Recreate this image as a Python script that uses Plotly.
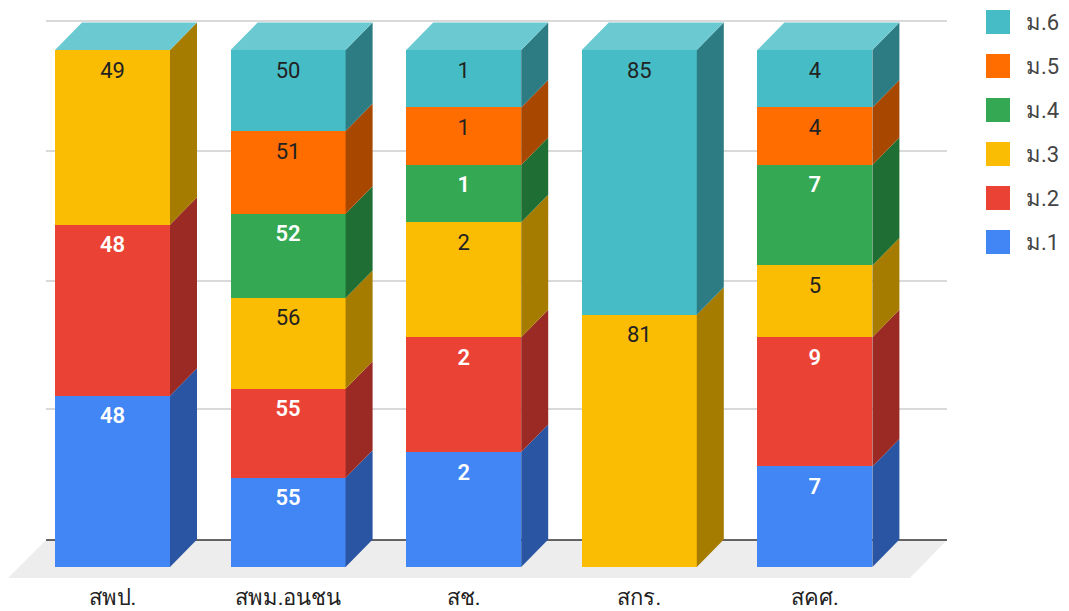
import plotly.graph_objects as go
import numpy as np

categories = ["สพป.", "สพม.อนชน", "สช.", "สกร.", "สคศ."]
series_names = ["ม.1", "ม.2", "ม.3", "ม.4", "ม.5", "ม.6"]
m1 = [48, 55, 2, 0, 7]
m2 = [48, 55, 2, 0, 9]
m3 = [49, 56, 2, 81, 5]
m4 = [0, 52, 1, 0, 7]
m5 = [0, 51, 1, 0, 4]
m6 = [0, 50, 1, 85, 4]
series_values = [m1, m2, m3, m4, m5, m6]
front_colors = ["#4285F4", "#EA4335", "#FBBC04", "#34A853", "#FF6D01", "#46BDC6"]
side_colors = ["#2A55A3", "#9A2A23", "#A67C00", "#1F6E34", "#A84800", "#2E7C83"]
label_colors = ["#FFFFFF", "#FFFFFF", "#222222", "#FFFFFF", "#222222", "#222222"]
label_weights = [600, 600, 400, 600, 400, 400]
top_color = "#6BCAD1"

W, H = 1069, 611
BOTTOM_M = 33
FONT = "Roboto, 'Noto Sans', sans-serif"

# pixel <-> data helpers (layout calibration)
X0_PX, X_STEP = 112.5, 175.6
Y0_PX, Y_UNIT = 567.0, 5.17
def xd(px): return (px - X0_PX) / X_STEP
def yd(px): return (Y0_PX - px) / Y_UNIT

BAR_W = 115 / X_STEP
DX = 27 / X_STEP
DY = 27.5 / Y_UNIT

vals = np.array(series_values, dtype=float)
pct = vals / vals.sum(axis=0) * 100
cum = np.cumsum(pct, axis=0)
xs = np.arange(len(categories))

fig = go.Figure()

# stacked front faces
for k, name in enumerate(series_names):
    fig.add_trace(go.Bar(x=xs, y=series_values[k], name=name, width=BAR_W,
                         marker=dict(color=front_colors[k], line=dict(width=0)),
                         showlegend=False))

# side faces
for k, name in enumerate(series_names):
    px_, py_ = [], []
    for i in xs:
        if vals[k, i] == 0:
            continue
        r = i + BAR_W / 2
        lo = cum[k, i] - pct[k, i]
        hi = cum[k, i]
        px_ += [r, r + DX, r + DX, r, r, None]
        py_ += [lo, lo + DY, hi + DY, hi, lo, None]
    fig.add_trace(go.Scatter(x=px_, y=py_, mode="lines", fill="toself",
                             fillcolor=side_colors[k], line=dict(width=0),
                             hoverinfo="skip", showlegend=False))

# top faces
tx, ty = [], []
for i in xs:
    l, r = i - BAR_W / 2, i + BAR_W / 2
    tx += [l, r, r + DX, l + DX, l, None]
    ty += [100, 100, 100 + DY, 100 + DY, 100, None]
fig.add_trace(go.Scatter(x=tx, y=ty, mode="lines", fill="toself", fillcolor=top_color,
                         line=dict(width=0), hoverinfo="skip", showlegend=False))

# value labels
LABEL_DROP = 22 / Y_UNIT
for k in range(len(series_names)):
    idx = [i for i in xs if vals[k, i] > 0]
    fig.add_trace(go.Scatter(x=idx, y=[cum[k, i] - LABEL_DROP for i in idx],
                             text=[str(series_values[k][i]) for i in idx],
                             mode="text", textposition="middle center",
                             textfont=dict(family=FONT, size=22, color=label_colors[k],
                                           weight=label_weights[k]),
                             hoverinfo="skip", showlegend=False))

# legend column
LEG_ROWS = [242, 198, 154, 110, 66, 22]
fig.add_trace(go.Scatter(x=[xd(998)] * 6, y=[yd(p) for p in LEG_ROWS], mode="markers",
                         marker=dict(symbol="square", size=24, color=front_colors, line=dict(width=0)),
                         hoverinfo="skip", showlegend=False))
fig.add_trace(go.Scatter(x=[xd(1026)] * 6, y=[yd(p + 2) for p in LEG_ROWS], mode="text",
                         text=series_names, textposition="middle right",
                         textfont=dict(family=FONT, size=22, color="#444444"),
                         hoverinfo="skip", showlegend=False))

# floor and back-wall lines, behind the marks
shapes = [dict(type="path", layer="below", line=dict(width=0), fillcolor="#EDEDED",
               path=f"M {xd(46)} {yd(540)} L {xd(947)} {yd(540)} L {xd(910)} {yd(578)} L {xd(8)} {yd(578)} Z")]
for p, c in [(409, "#CCCCCC"), (281, "#CCCCCC"), (151, "#CCCCCC"), (21, "#CCCCCC"), (540, "#333333")]:
    shapes.append(dict(type="line", layer="below", x0=xd(46), x1=xd(947), y0=yd(p), y1=yd(p),
                       line=dict(color=c, width=1.5)))

fig.update_layout(
    width=W, height=H, barmode="stack", barnorm="percent",
    paper_bgcolor="white", plot_bgcolor="white",
    margin=dict(l=0, r=0, t=0, b=BOTTOM_M),
    shapes=shapes, showlegend=False,
    font=dict(family=FONT, size=20, color="#222222"),
    xaxis=dict(range=[xd(0), xd(W)], tickmode="array", tickvals=list(xs), ticktext=categories,
               showgrid=False, zeroline=False, showline=False, ticks="outside", ticklen=0,
               tickcolor="rgba(0,0,0,0)",
               tickfont=dict(family=FONT, size=22, color="#222222"),
               fixedrange=True, automargin=False),
    yaxis=dict(range=[yd(H - BOTTOM_M), yd(0)], showgrid=False, zeroline=False,
               showline=False, showticklabels=False, ticks="", fixedrange=True, automargin=False),
)
fig.write_html("out.html", config=dict(displayModeBar=False),
               post_script="document.body.style.margin='0';")
